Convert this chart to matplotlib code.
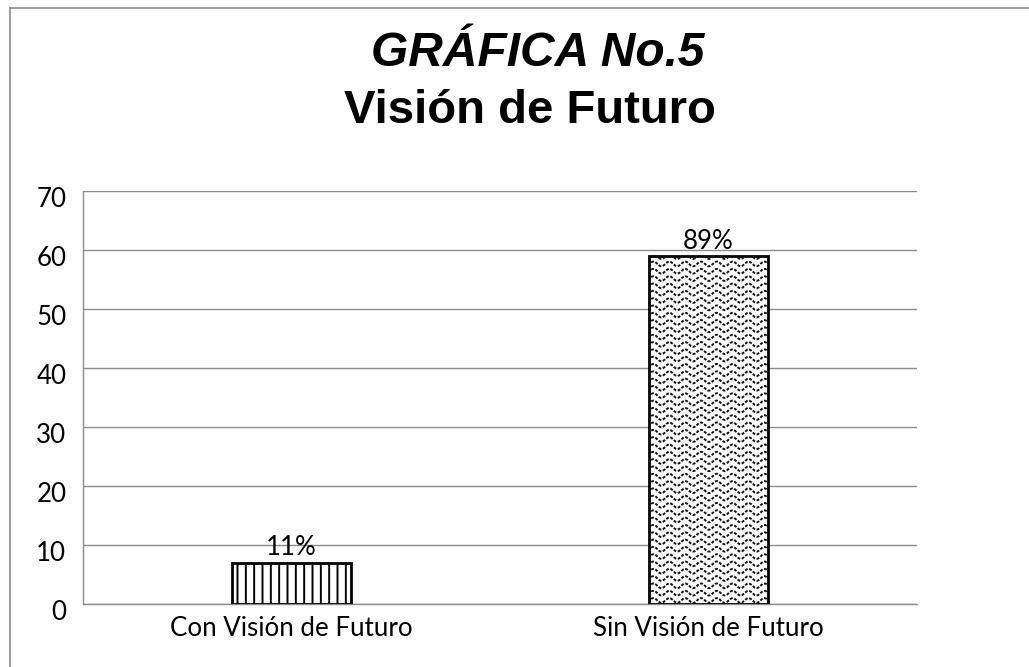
import matplotlib
matplotlib.use("Agg")
import matplotlib.pyplot as plt
from matplotlib.lines import Line2D
import matplotlib.transforms as mtransforms
import numpy as np

categories = ["Con Visión de Futuro", "Sin Visión de Futuro"]
values = [7, 59]
labels = ["11%", "89%"]
yticks = [0, 10, 20, 30, 40, 50, 60, 70]
title1 = "GRÁFICA No.5"
title2 = "Visión de Futuro"

W, H = 1029, 667
fig = plt.figure(figsize=(W / 100, H / 100), dpi=100)
ax = fig.add_axes([83 / W, 1 - 604 / H, (917 - 83) / W, (604 - 191) / H])

x = np.arange(len(categories))
bw = 0.283
plt.rcParams['hatch.linewidth'] = 1.4
bars = ax.bar(x, values, width=bw, color="white", edgecolor="black", linewidth=2, zorder=3)
bars[0].set_hatch("||")

# wavy pattern for second bar, clipped to the bar
b = bars[1]
x0, x1 = b.get_x(), b.get_x() + b.get_width()
xs = np.linspace(x0 - 0.05, x1 + 0.05, 500)
period = 0.038
amp = 0.4
step = 1.24
yy = 0.6
while yy < values[1] + 1:
    ln, = ax.plot(xs, yy + amp * np.sin(2 * np.pi * (xs - x0) / period), color="#111111",
                  lw=1.4, ls=(0, (1.5, 0.8)), zorder=3.5)
    ln.set_clip_path(b)
    yy += step

FS = 18.6
for i, (v, lab) in enumerate(zip(values, labels)):
    ax.text(x[i], v + 1.25, lab, ha="center", va="baseline", fontsize=FS, family="Lato", color="black")

ax.set_xlim(-0.5, 1.5)
ax.set_ylim(0, 70)
ax.set_yticks(yticks)
ax.set_yticklabels([str(t) for t in yticks], fontsize=FS, family="Lato")
ax.set_xticks(x)
ax.set_xticklabels(categories, fontsize=FS, family="Lato")
ax.tick_params(axis="y", length=0, pad=12)
ax.tick_params(axis="x", length=0, pad=9)
off = mtransforms.ScaledTranslation(0, -6 / 100, fig.dpi_scale_trans)
for lbl in ax.get_yticklabels():
    lbl.set_transform(lbl.get_transform() + off)
ax.grid(axis="y", color="#8c8c8c", lw=1.0, zorder=0)
for s in ["top", "right"]:
    ax.spines[s].set_visible(False)
ax.spines["left"].set_color("#8c8c8c")
ax.spines["bottom"].set_color("#8c8c8c")
ax.spines["left"].set_linewidth(1.0)
ax.spines["bottom"].set_linewidth(1.0)

fig.text(538 / W, 1 - 54 / H, title1, ha="center", va="center", fontsize=34.5,
         family="Liberation Sans", weight="bold", style="italic")
fig.text(530 / W, 1 - 111 / H, title2, ha="center", va="center", fontsize=34,
         family="Liberation Sans", weight="bold")

# chart border
fig.add_artist(Line2D([9.5 / W, 9.5 / W], [0, 1 - 8 / H], color="#8c8c8c", lw=1.2, transform=fig.transFigure))
fig.add_artist(Line2D([9.5 / W, 1], [1 - 8 / H, 1 - 8 / H], color="#8c8c8c", lw=1.2, transform=fig.transFigure))

fig.savefig("out.png", dpi=100)
